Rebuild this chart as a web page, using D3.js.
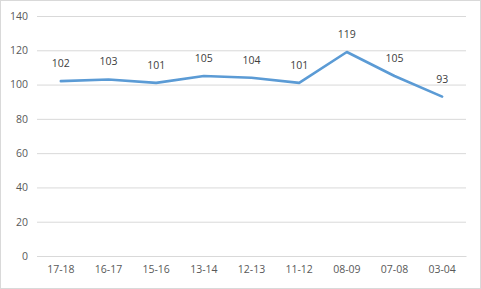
<!DOCTYPE html>
<html><head><meta charset="utf-8">
<script src="https://cdn.jsdelivr.net/npm/d3@7"></script>
<style>body{margin:0;background:#fff}svg{display:block}text{font-family:"Open Sans","Liberation Sans",sans-serif}</style>
</head><body><svg id="c" width="481" height="289"></svg>
<script>
const categories = ["17-18","16-17","15-16","13-14","12-13","11-12","08-09","07-08","03-04"];
const values = [102,103,101,105,104,101,119,105,93];
const yTicks = [0,20,40,60,80,100,120,140];

const svg = d3.select("#c");
const W=481,H=289;
svg.append("rect").attr("x",0.5).attr("y",0.5).attr("width",W-1).attr("height",H-1).attr("fill","#fff").attr("stroke","#d9d9d9");
const x = d3.scaleBand().domain(categories).range([37,466]);
const y = d3.scaleLinear().domain([0,140]).range([256,16]);

const ya = svg.append("g").attr("transform","translate(37,0)")
  .call(d3.axisLeft(y).tickValues(yTicks).tickSize(-(466-37)).tickPadding(9));
ya.select(".domain").remove();
ya.selectAll("line").attr("stroke","#d9d9d9");
ya.selectAll("text").attr("fill","#595959").style("font-size","10.5px");

const xa = svg.append("g").attr("transform","translate(0,256)")
  .call(d3.axisBottom(x).tickSize(0).tickPadding(10));
xa.select(".domain").attr("stroke","#d9d9d9");
xa.selectAll("text").attr("fill","#595959").style("font-size","10.5px");

const line = d3.line().x((d,i)=>x(categories[i])+x.bandwidth()/2).y(d=>y(d));
svg.append("path").datum(values).attr("d",line).attr("fill","none")
  .attr("stroke","#5b9bd5").attr("stroke-width",2.6).attr("stroke-linejoin","round").attr("stroke-linecap","round");

svg.append("g").selectAll("text").data(values).join("text")
  .attr("x",(d,i)=>x(categories[i])+x.bandwidth()/2)
  .attr("y",d=>y(d)-14)
  .attr("text-anchor","middle").attr("fill","#404040").style("font-size","10.5px")
  .text(d=>d);
</script></body></html>
